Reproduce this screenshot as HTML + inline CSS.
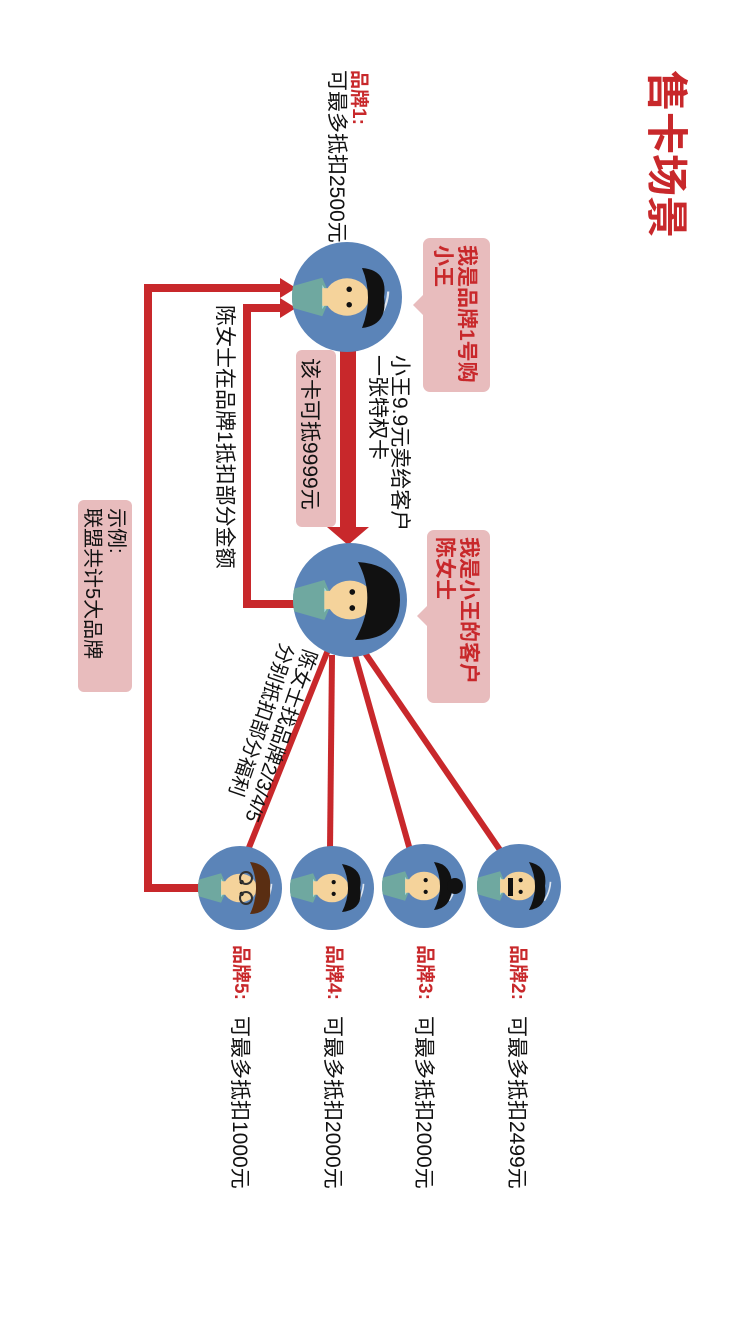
<!DOCTYPE html>
<html><head><meta charset="utf-8"><style>
html,body{margin:0;padding:0;background:#fff;}
svg{display:block;}
text{font-family:"Liberation Sans","Noto Sans CJK SC",sans-serif;}
.r{fill:#c8282b;font-weight:bold;}
.k{fill:#111;}
</style></head><body>
<svg width="750" height="1333" viewBox="0 0 750 1333" xmlns="http://www.w3.org/2000/svg">
<defs>
<g id="face">
  <circle cx="0" cy="0" r="1" fill="#5b84b8"/>
  <path d="M-0.98,-0.2 L-0.45,-0.35 L-0.3,0 L-0.45,0.35 L-0.98,0.2 A1,1 0 0 1 -0.98,-0.2Z" fill="#6fa8a0"/>
  <path d="M-0.45,-0.22 L-0.3,0 L-0.45,0.22Z" fill="#a8dede"/>
  <rect x="-0.45" y="-0.16" width="0.3" height="0.32" fill="#f5d39b"/>
  <ellipse cx="0" cy="0" rx="0.4" ry="0.34" fill="#f5d39b"/>
  <circle cx="0.04" cy="-0.14" r="0.05" fill="#111"/>
  <circle cx="0.04" cy="0.14" r="0.05" fill="#111"/>
  <path d="M0.6,0.35 A0.9,0.9 0 0 0 0.75,-0.1" stroke="#fff" stroke-width="0.04" fill="none" opacity="0.8"/>
</g>
</defs>

<text class="r" font-size="42" transform="translate(652,70) rotate(90)">售卡场景</text>

<text class="r" font-size="19" transform="translate(353,70) rotate(90)">品牌1:</text>
<text class="k" font-size="21" transform="translate(330,70) rotate(90)">可最多抵扣2500元</text>

<path d="M200,888 L148,888 L148,288 L282,288" stroke="#c8282b" stroke-width="8" fill="none"/>
<path d="M280,278 L296,288 L280,298Z" fill="#c8282b"/>
<path d="M300,604 L247,604 L247,308 L282,308" stroke="#c8282b" stroke-width="8" fill="none"/>
<path d="M280,298 L296,308 L280,318Z" fill="#c8282b"/>

<g stroke="#c8282b" stroke-width="6">
<line x1="328" y1="650" x2="248" y2="850"/>
<line x1="332" y1="655" x2="330" y2="850"/>
<line x1="355" y1="655" x2="410" y2="850"/>
<line x1="363" y1="650" x2="500" y2="850"/>
</g>

<rect x="340" y="350" width="16" height="180" fill="#c8282b"/>
<path d="M327,527 L369,527 L348,545Z" fill="#c8282b"/>

<rect x="296" y="350" width="40" height="177" rx="6" fill="#e8bcbd"/>
<text class="k" font-size="21" transform="translate(303,358) rotate(90)">该卡可抵9999元</text>

<path d="M423,238 h60 a7,7 0 0 1 7,7 v140 a7,7 0 0 1 -7,7 h-53 a7,7 0 0 1 -7,-7 v-70 l-10,-10 l10,-10 v-50 a7,7 0 0 1 7,-7z" fill="#e8bcbd"/>
<text class="r" font-size="21" transform="translate(460,245) rotate(90)">我是品牌1号购</text>
<text class="r" font-size="21" transform="translate(436,245) rotate(90)">小王</text>

<path d="M427,530 h56 a7,7 0 0 1 7,7 v159 a7,7 0 0 1 -7,7 h-49 a7,7 0 0 1 -7,-7 v-70 l-10,-10 l10,-10 v-69 a7,7 0 0 1 7,-7z" fill="#e8bcbd"/>
<text class="r" font-size="21" transform="translate(462,537) rotate(90)">我是小王的客户</text>
<text class="r" font-size="21" transform="translate(438,537) rotate(90)">陈女士</text>

<rect x="78" y="500" width="54" height="192" rx="6" fill="#e8bcbd"/>
<text class="k" font-size="20" transform="translate(110,508) rotate(90)">示例:</text>
<text class="k" font-size="20" transform="translate(86,508) rotate(90)">联盟共计5大品牌</text>

<text class="k" font-size="21" transform="translate(393,355) rotate(90)">小王9.9元卖给客户</text>
<text class="k" font-size="21" transform="translate(371,355) rotate(90)">一张特权卡</text>
<text class="k" font-size="21" transform="translate(218,305) rotate(90)">陈女士在品牌1抵扣部分金额</text>
<text class="k" font-size="20" transform="translate(304,648) rotate(109)">陈女士找品牌2/3/4/5</text>
<text class="k" font-size="20" transform="translate(281,642) rotate(109)">分别抵扣部分福利</text>

<g transform="translate(347,297) scale(55)"><use href="#face"/></g>
<path d="M362,268 Q388,270 384,297 Q388,325 362,328 Q374,297 362,268Z" fill="#111"/>
<g transform="translate(350,600) scale(57)"><use href="#face"/></g>
<path d="M358,562 Q400,565 400,600 Q400,640 355,640 Q378,600 358,562Z" fill="#111"/>

<g transform="translate(240,888) scale(42)"><use href="#face"/></g>
<path d="M250,862 Q272,864 270,888 Q272,914 250,914 Q262,888 250,862Z" fill="#5a2e12"/>
<circle cx="246" cy="878" r="6" fill="none" stroke="#333" stroke-width="2"/>
<circle cx="246" cy="898" r="6" fill="none" stroke="#333" stroke-width="2"/>

<g transform="translate(332,888) scale(42)"><use href="#face"/></g>
<path d="M342,864 Q364,868 360,888 Q364,910 342,912 Q354,888 342,864Z" fill="#111"/>

<g transform="translate(424,886) scale(42)"><use href="#face"/></g>
<path d="M434,862 Q452,864 452,886 Q452,908 434,910 Q446,886 434,862Z" fill="#111"/>
<circle cx="455" cy="886" r="8" fill="#111"/>

<g transform="translate(519,886) scale(42)"><use href="#face"/></g>
<path d="M529,862 Q548,866 545,886 Q548,908 529,910 Q541,886 529,862Z" fill="#111"/>
<rect x="508" y="878" width="5" height="18" fill="#111"/>

<text class="r" font-size="19" transform="translate(512,945) rotate(90)">品牌2:</text>
<text class="k" font-size="21" transform="translate(510,1016) rotate(90)">可最多抵扣2499元</text>
<text class="r" font-size="19" transform="translate(419,945) rotate(90)">品牌3:</text>
<text class="k" font-size="21" transform="translate(417,1016) rotate(90)">可最多抵扣2000元</text>
<text class="r" font-size="19" transform="translate(328,945) rotate(90)">品牌4:</text>
<text class="k" font-size="21" transform="translate(326,1016) rotate(90)">可最多抵扣2000元</text>
<text class="r" font-size="19" transform="translate(235,945) rotate(90)">品牌5:</text>
<text class="k" font-size="21" transform="translate(233,1016) rotate(90)">可最多抵扣1000元</text>
</svg>
</body></html>
